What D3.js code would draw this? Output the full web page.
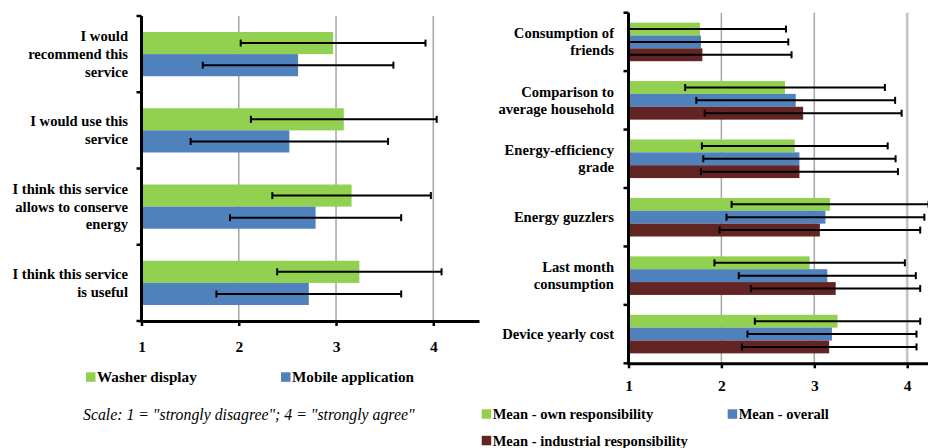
<!DOCTYPE html>
<html>
<head>
<meta charset="utf-8">
<script src="https://cdn.jsdelivr.net/npm/d3@7"></script>
<style>
  html, body { margin: 0; padding: 0; background: #fff; }
  svg { display: block; }
  text { font-family: "Liberation Serif", "Times New Roman", serif; fill: #000; }
</style>
</head>
<body>
<svg id="chart" width="928" height="448"></svg>
<script>
// ---------- DATA ----------
const leftCategories = [
  ["I would", "recommend this", "service"],
  ["I would use this", "service"],
  ["I think this service", "allows to conserve", "energy"],
  ["I think this service", "is useful"]
];
const leftSeriesNames = ["Washer display", "Mobile application"];
const washerMean = [2.97, 3.08, 3.16, 3.24];
const washerErr  = [0.95, 0.955, 0.815, 0.845];
const mobileMean = [2.61, 2.52, 2.79, 2.72];
const mobileErr  = [0.98, 1.015, 0.88, 0.95];

const rightCategories = [
  ["Consumption of", "friends"],
  ["Comparison to", "average household"],
  ["Energy-efficiency", "grade"],
  ["Energy guzzlers"],
  ["Last month", "consumption"],
  ["Device yearly cost"]
];
const rightSeriesNames = ["Mean - own responsibility", "Mean - overall", "Mean - industrial responsibility"];
const ownMean        = [1.77, 2.685, 2.79, 3.17, 2.95, 3.25];
const ownErr         = [0.925, 1.075, 1.0, 1.06, 1.025, 0.89];
const overallMean    = [1.78, 2.80, 2.84, 3.12, 3.14, 3.19];
const overallErr     = [0.94, 1.07, 1.035, 1.065, 0.953, 0.91];
const industrialMean = [1.795, 2.88, 2.84, 3.06, 3.23, 3.16];
const industrialErr  = [0.96, 1.06, 1.06, 1.08, 0.91, 0.94];

const xTicks = [1, 2, 3, 4];
const scaleNote = 'Scale: 1 = "strongly disagree"; 4 = "strongly agree"';

const GREEN = "#92D050", BLUE = "#4F81BD", RED = "#632523";

// ---------- DRAW ----------
const svg = d3.select("#chart");

function drawChart(cfg) {
  const g = svg.append("g");
  const x = d3.scaleLinear().domain(cfg.xDomain).range(cfg.xRange);
  const keys = cfg.categories.map((d, i) => i);
  const y = d3.scaleBand().domain(keys).range(cfg.yRange)
    .paddingInner(cfg.pad).paddingOuter(cfg.pad / 2);
  const sub = d3.scaleBand().domain(cfg.series.map((d, i) => i)).range([0, y.bandwidth()]);

  // gridlines
  g.selectAll(".grid").data(xTicks.slice(1)).join("line")
    .attr("x1", d => x(d)).attr("x2", d => x(d))
    .attr("y1", cfg.yRange[0]).attr("y2", cfg.yRange[1])
    .attr("stroke", d => (cfg.wideLast && d === 4) ? "#c4c4c4" : "#a6a6a6")
    .attr("stroke-width", d => (cfg.wideLast && d === 4) ? 2.6 : 1.5);

  // bars
  cfg.series.forEach((s, si) => {
    g.selectAll(".bar" + si).data(s.mean).join("rect")
      .attr("x", x(cfg.xDomain[0]))
      .attr("y", (d, i) => y(i) + sub(si))
      .attr("width", d => x(d) - x(cfg.xDomain[0]))
      .attr("height", sub.bandwidth())
      .attr("fill", s.color);
  });

  // error bars
  cfg.series.forEach((s, si) => {
    s.mean.forEach((m, i) => {
      const cy = y(i) + sub(si) + sub.bandwidth() / 2;
      const lo = m - s.err[i], hi = m + s.err[i];
      const loC = Math.max(lo, cfg.xDomain[0]);
      g.append("line").attr("x1", x(loC)).attr("x2", x(hi))
        .attr("y1", cy).attr("y2", cy).attr("stroke", "#000").attr("stroke-width", 2);
      [lo, hi].forEach(v => {
        if (v < cfg.xDomain[0]) return;
        g.append("line").attr("x1", x(v)).attr("x2", x(v))
          .attr("y1", cy - 3.5).attr("y2", cy + 3.5)
          .attr("stroke", "#000").attr("stroke-width", 2);
      });
    });
  });

  // x axis
  const ax = g.append("g").attr("transform", `translate(0,${cfg.yRange[1]})`)
    .call(d3.axisBottom(x).tickValues(xTicks).tickSize(5).tickSizeOuter(0).tickFormat(d3.format("d")));
  ax.select(".domain").attr("stroke", "#000").attr("stroke-width", 3);
  ax.selectAll(".tick line").attr("stroke", "#000").attr("stroke-width", 2.5);
  ax.selectAll(".tick text").attr("dy", 0).attr("y", cfg.tickLabelY - cfg.yRange[1])
    .style("font-family", '"Liberation Serif", serif').style("font-weight", "bold")
    .style("font-size", "15.5px").attr("fill", "#000");

  // y axis
  const x0 = x(cfg.xDomain[0]);
  g.append("line").attr("x1", x0).attr("x2", x0)
    .attr("y1", cfg.yRange[0]).attr("y2", cfg.yRange[1] + 1.5)
    .attr("stroke", "#000").attr("stroke-width", 3);
  const bounds = keys.map(k => y(k) - y.step() * y.paddingInner() / 2).concat([cfg.yRange[1]]);
  g.selectAll(".ytick").data(bounds).join("line")
    .attr("x1", x0 - 5).attr("x2", x0).attr("y1", d => d).attr("y2", d => d)
    .attr("stroke", "#000").attr("stroke-width", 2.5);

  // category labels
  cfg.categories.forEach((lines, i) => {
    const cy = y(i) + y.bandwidth() / 2;
    const t = g.append("text").attr("text-anchor", "end")
      .style("font-weight", "bold").style("font-size", "14.6px");
    lines.forEach((ln, li) => {
      t.append("tspan").attr("x", x0 - cfg.labelGap)
        .attr("y", cy + (li - (lines.length - 1) / 2) * cfg.lineH + 5)
        .text(ln);
    });
  });

  // legend
  cfg.legend.forEach(L => {
    const s = cfg.series[L.i];
    g.append("rect").attr("x", L.x).attr("y", L.y - 4.7).attr("width", 9.5).attr("height", 9.5).attr("fill", s.color);
    g.append("text").attr("x", L.x + 11).attr("y", L.y + 5)
      .style("font-weight", "bold").style("font-size", L.size + "px").text(s.name);
  });
}

drawChart({
  categories: leftCategories,
  series: [
    { name: leftSeriesNames[0], mean: washerMean, err: washerErr, color: GREEN },
    { name: leftSeriesNames[1], mean: mobileMean, err: mobileErr, color: BLUE }
  ],
  xDomain: [1, 4.47], xRange: [141.5, 479],
  yRange: [16, 321], pad: 0.42,
  tickLabelY: 352, labelGap: 13.5, lineH: 17.8, wideLast: false,
  legend: [ { i: 0, x: 86, y: 377, size: 15.2 }, { i: 1, x: 281, y: 377, size: 15.2 } ]
});

drawChart({
  categories: rightCategories,
  series: [
    { name: rightSeriesNames[0], mean: ownMean, err: ownErr, color: GREEN },
    { name: rightSeriesNames[1], mean: overallMean, err: overallErr, color: BLUE },
    { name: rightSeriesNames[2], mean: industrialMean, err: industrialErr, color: RED }
  ],
  xDomain: [1, 4.5], xRange: [628.5, 628.5 + 3.5 * 92.9],
  yRange: [12.7, 363.3], pad: 0.34,
  tickLabelY: 391, labelGap: 14.5, lineH: 17, wideLast: true,
  legend: [ { i: 0, x: 481.7, y: 414, size: 14.5 }, { i: 1, x: 727.7, y: 414, size: 14.5 }, { i: 2, x: 481.7, y: 440.5, size: 14.5 } ]
});

svg.append("text").attr("x", 83).attr("y", 420)
  .style("font-style", "italic").style("font-size", "15.8px").attr("fill", "#3a3a3a")
  .text(scaleNote);
</script>
</body>
</html>
